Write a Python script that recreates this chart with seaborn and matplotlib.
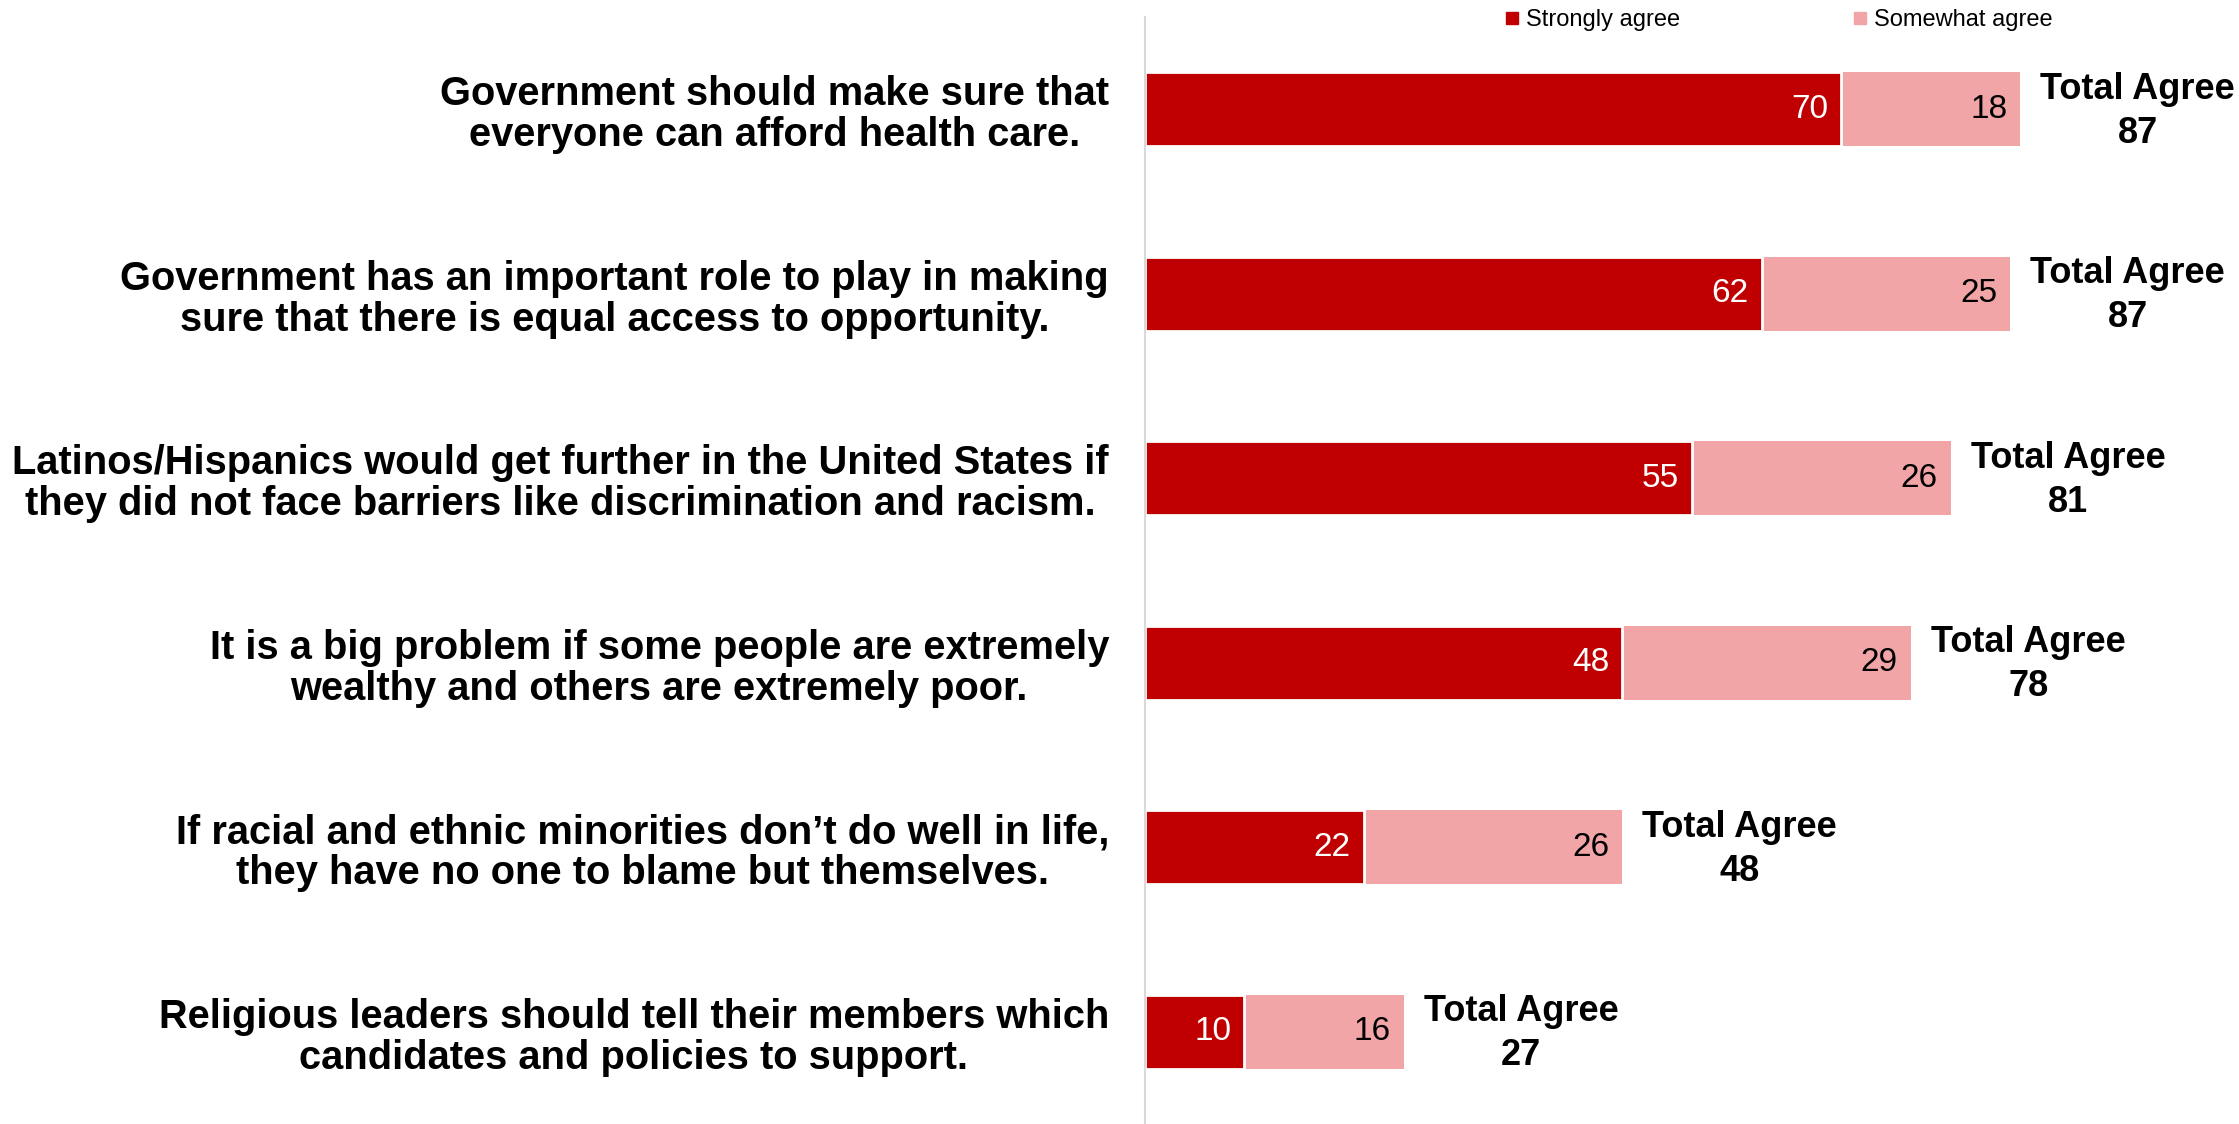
import numpy as np
import pandas as pd
import matplotlib
matplotlib.use("Agg")
import matplotlib.pyplot as plt
from matplotlib.lines import Line2D
import seaborn as sns

# ---- Data ----
statements = [
    "Government should make sure that\neveryone can afford health care.",
    "Government has an important role to play in making\nsure that there is equal access to opportunity.",
    "Latinos/Hispanics would get further in the United States if\nthey did not face barriers like discrimination and racism.",
    "It is a big problem if some people are extremely\nwealthy and others are extremely poor.",
    "If racial and ethnic minorities don\u2019t do well in life,\nthey have no one to blame but themselves.",
    "Religious leaders should tell their members which\ncandidates and policies to support.",
]
strongly = [70, 62, 55, 48, 22, 10]
somewhat = [18, 25, 26, 29, 26, 16]
total_agree = [87, 87, 81, 78, 48, 27]

RED = "#C00000"
PINK = "#F2A5A7"

df = pd.DataFrame({
    "Statement": statements,
    "Strongly": strongly,
    "Somewhat": somewhat,
})
df["Stack"] = df["Strongly"] + df["Somewhat"]

sns.set_style("white")
plt.rcParams["font.family"] = ["Liberation Sans", "DejaVu Sans"]
plt.rcParams["text.color"] = "black"

fig = plt.figure(figsize=(22.39, 11.24), dpi=100)
ax = fig.add_axes([1145 / 2239, 0, 1 - 1145 / 2239, 1 - 17 / 1124])

# stacked bars: full stack in pink, strongly agree on top in red
sns.barplot(data=df, x="Stack", y="Statement", color=PINK, orient="h",
            width=0.4, saturation=1, edgecolor=PINK, linewidth=0, ax=ax)
sns.barplot(data=df, x="Strongly", y="Statement", color=RED, orient="h",
            width=0.4, saturation=1, edgecolor="white", linewidth=2, ax=ax)

ax.set_xlim(0, 110)
ax.set_ylim(5.5, -0.5)
ax.set_xlabel("")
ax.set_ylabel("")
ax.set_xticks([])

for sp in ["top", "right", "bottom"]:
    ax.spines[sp].set_visible(False)
ax.spines["left"].set_color("#d9d9d9")
ax.spines["left"].set_linewidth(1.5)

ax.tick_params(axis="y", length=0, pad=26, labelcolor="black")
for t in ax.get_yticklabels():
    t.set_fontsize(28.7)
    t.set_fontweight("bold")
    t.set_multialignment("center")
    t.set_linespacing(1.1)

# value labels
for i, (s, w, tot) in enumerate(zip(strongly, somewhat, total_agree)):
    ax.text(s - 1.3, i, str(s), ha="right", va="center", color="white", fontsize=24)
    ax.text(s + w - 1.3, i, str(w), ha="right", va="center", color="black", fontsize=24)
    ax.text(s + w + 11.8, i + 0.01, f"Total Agree\n{tot}", ha="center", va="center",
            fontsize=26, fontweight="bold", color="black", linespacing=1.33,
            clip_on=False)

# legend
handles = [
    Line2D([], [], marker="s", linestyle="", color=RED, markersize=9),
    Line2D([], [], marker="s", linestyle="", color=PINK, markersize=9),
]
leg = fig.legend(handles, ["Strongly agree", "Somewhat agree"], loc="center left",
                 bbox_to_anchor=(1479 / 2239, 1 - 20 / 1124), ncol=2, frameon=False,
                 fontsize=17, handletextpad=0.1, columnspacing=7.1, handlelength=1.0)
for t in leg.get_texts():
    t.set_color("black")

fig.savefig("out.png", dpi=100)
